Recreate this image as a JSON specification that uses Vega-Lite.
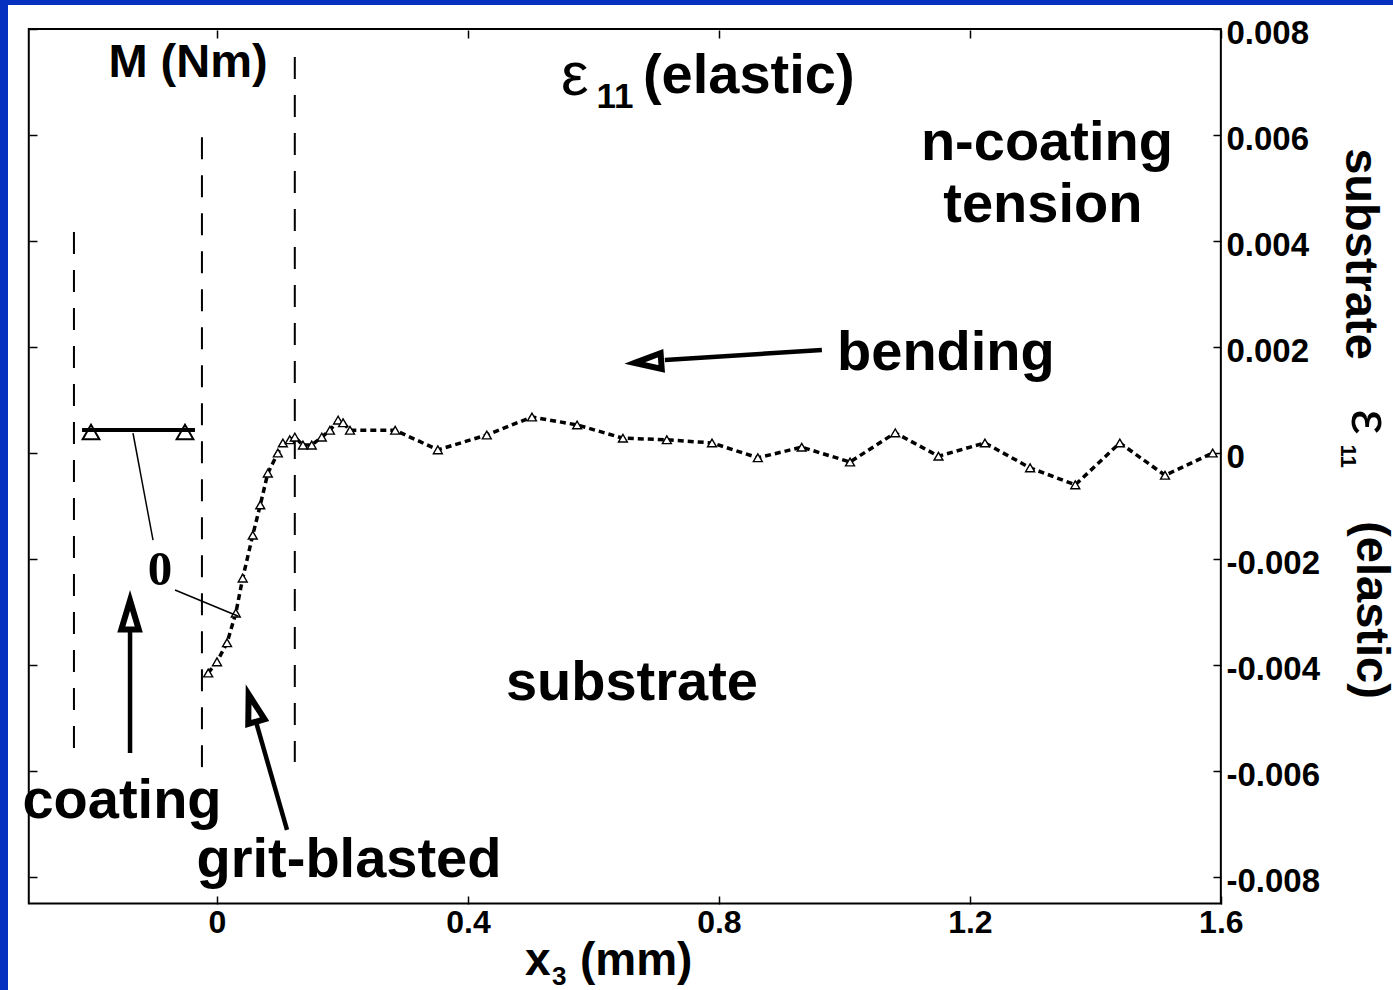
{
  "$schema": "https://vega.github.io/schema/vega-lite/v6.json",
  "width": 1385,
  "height": 985,
  "autosize": {"type": "none"},
  "padding": {"left": 8, "top": 5, "right": 0, "bottom": 0},
  "background": "#0530c0",
  "view": {"fill": "white", "stroke": null},
  "config": {"font": "Liberation Sans"},
  "datasets": {
    "curve": [
      {"x": -0.014, "y": -0.00415}, {"x": 0.0, "y": -0.00394}, {"x": 0.016, "y": -0.00358},
      {"x": 0.030, "y": -0.00302}, {"x": 0.041, "y": -0.00236}, {"x": 0.057, "y": -0.00155},
      {"x": 0.069, "y": -0.00098}, {"x": 0.081, "y": -0.00038}, {"x": 0.097, "y": 0.0},
      {"x": 0.105, "y": 0.00019}, {"x": 0.116, "y": 0.00025}, {"x": 0.124, "y": 0.0003},
      {"x": 0.137, "y": 0.00015}, {"x": 0.151, "y": 0.00015}, {"x": 0.167, "y": 0.0003},
      {"x": 0.180, "y": 0.00043}, {"x": 0.193, "y": 0.00062}, {"x": 0.201, "y": 0.00057},
      {"x": 0.212, "y": 0.00043}, {"x": 0.284, "y": 0.00043}, {"x": 0.352, "y": 0.00006},
      {"x": 0.430, "y": 0.00034}, {"x": 0.502, "y": 0.00068}, {"x": 0.574, "y": 0.00053},
      {"x": 0.647, "y": 0.00028}, {"x": 0.717, "y": 0.00025}, {"x": 0.789, "y": 0.00019},
      {"x": 0.862, "y": -0.00009}, {"x": 0.932, "y": 0.00011}, {"x": 1.009, "y": -0.00017},
      {"x": 1.081, "y": 0.00038}, {"x": 1.150, "y": -0.00006}, {"x": 1.224, "y": 0.00019},
      {"x": 1.296, "y": -0.00028}, {"x": 1.368, "y": -0.0006}, {"x": 1.439, "y": 0.00019},
      {"x": 1.511, "y": -0.00042}, {"x": 1.587, "y": 0.0}
    ]
  },
  "encoding": {
    "x": {"field": "x", "type": "quantitative", "scale": {"domain": [-0.33312, 1.8744], "nice": false, "zero": false}, "axis": null},
    "y": {"field": "y", "type": "quantitative", "scale": {"domain": [-0.010132, 0.008453], "nice": false, "zero": false}, "axis": null}
  },
  "resolve": {"axis": {"x": "independent", "y": "independent"}},
  "layer": [
    {
      "data": {"values": [{"x": -0.3, "x2": 1.6, "y": -0.0085, "y2": 0.008}]},
      "mark": {"type": "rect", "filled": false, "stroke": "black", "strokeWidth": 2},
      "encoding": {
        "x": {"field": "x", "type": "quantitative", "scale": {"domain": [-0.33312, 1.8744], "nice": false, "zero": false},
          "axis": {"orient": "bottom", "offset": -86, "values": [0, 0.4, 0.8, 1.2, 1.6], "domain": false, "grid": false,
            "tickSize": -8, "tickWidth": 1.5, "tickColor": "black", "labelFont": "Liberation Sans", "labelFontSize": 32,
            "labelFontWeight": "bold", "labelColor": "black", "labelPadding": 11, "labelFlush": false, "labelOverlap": false,
            "format": ".1~f", "title": null}},
        "x2": {"field": "x2"},
        "y": {"field": "y", "type": "quantitative", "scale": {"domain": [-0.010132, 0.008453], "nice": false, "zero": false},
          "axis": {"orient": "right", "offset": -172, "values": [-0.008, -0.006, -0.004, -0.002, 0, 0.002, 0.004, 0.006, 0.008],
            "domain": false, "grid": false, "tickSize": -8, "tickWidth": 1.5, "tickColor": "black", "labelFont": "Liberation Sans",
            "labelFontSize": 33, "labelFontWeight": "bold", "labelColor": "black", "labelPadding": 13, "labelOffset": 4, "labelFlush": false,
            "labelOverlap": false, "labelExpr": "datum.value == 0 ? '0' : (datum.value < 0 ? '-' : '') + format(abs(datum.value), '.3f')",
            "title": null}},
        "y2": {"field": "y2"}
      }
    },
    {
      "data": {"values": [
        {"x": -0.228, "y": 0.00417, "y2": -0.00557},
        {"x": -0.024, "y": 0.00596, "y2": -0.00598},
        {"x": 0.124, "y": 0.00747, "y2": -0.00583}
      ]},
      "mark": {"type": "rule", "color": "black", "strokeWidth": 2, "strokeDash": [22, 16]},
      "encoding": {
        "x": {"field": "x", "type": "quantitative", "scale": {"domain": [-0.33312, 1.8744], "nice": false, "zero": false},
          "axis": {"orient": "top", "offset": -25, "values": [0, 0.4, 0.8, 1.2, 1.6], "domain": false, "grid": false,
            "labels": false, "tickSize": -8, "tickWidth": 1.5, "tickColor": "black", "title": null}},
        "y": {"field": "y", "type": "quantitative", "scale": {"domain": [-0.010132, 0.008453], "nice": false, "zero": false},
          "axis": {"orient": "left", "offset": -21, "values": [-0.008, -0.006, -0.004, -0.002, 0, 0.002, 0.004, 0.006, 0.008],
            "domain": false, "grid": false, "labels": false, "tickSize": -8, "tickWidth": 1.5, "tickColor": "black", "title": null}},
        "y2": {"field": "y2"}
      }
    },
    {
      "data": {"name": "curve"},
      "mark": {"type": "line", "color": "black", "strokeWidth": 3.5, "strokeDash": [6, 4]}
    },
    {
      "data": {"name": "curve"},
      "mark": {"type": "point", "shape": "triangle-up", "size": 80, "filled": true, "fill": "white", "stroke": "black", "strokeWidth": 1.4, "opacity": 1}
    },
    {
      "data": {"values": [{"x": -0.2008, "y": 0.000396}, {"x": -0.051, "y": 0.000396}]},
      "mark": {"type": "point", "shape": "triangle-up", "size": 280, "filled": true, "fill": "white", "stroke": "black", "strokeWidth": 2, "opacity": 1}
    },
    {
      "data": {"values": [{"x": -0.2151, "x2": -0.0351, "y": 0.000434}]},
      "mark": {"type": "rule", "color": "black", "strokeWidth": 4},
      "encoding": {"x2": {"field": "x2"}}
    },
    {
      "data": {"values": [
        {"x": -0.1339, "y": 0.000377, "x2": -0.102, "y2": -0.001642},
        {"x": -0.0669, "y": -0.002585, "x2": 0.034, "y2": -0.00308}
      ]},
      "mark": {"type": "rule", "color": "black", "strokeWidth": 1.5},
      "encoding": {"x2": {"field": "x2"}, "y2": {"field": "y2"}}
    },
    {
      "data": {"values": [
        {"x": 0.9641, "y": 0.001943, "x2": 0.7139, "y2": 0.001755},
        {"x": -0.1386, "y": -0.00566, "x2": -0.1386, "y2": -0.00334},
        {"x": 0.1116, "y": -0.007113, "x2": 0.0622, "y2": -0.005075}
      ]},
      "mark": {"type": "rule", "color": "black", "strokeWidth": 4.5},
      "encoding": {"x2": {"field": "x2"}, "y2": {"field": "y2"}}
    },
    {
      "data": {"values": [{"x": 0.6869, "y": 0.001717}]},
      "mark": {"type": "point", "shape": "M0,-1L0.6,1L-0.6,1Z", "size": 700, "angle": 266, "filled": true, "fill": "white", "stroke": "black", "strokeWidth": 6, "strokeJoin": "miter", "opacity": 1}
    },
    {
      "data": {"values": [{"x": -0.1386, "y": -0.003057}]},
      "mark": {"type": "point", "shape": "M0,-1L0.6,1L-0.6,1Z", "size": 850, "angle": 0, "filled": true, "fill": "white", "stroke": "black", "strokeWidth": 6, "strokeJoin": "miter", "opacity": 1}
    },
    {
      "data": {"values": [{"x": 0.0566, "y": -0.004811}]},
      "mark": {"type": "point", "shape": "M0,-1L0.6,1L-0.6,1Z", "size": 800, "angle": 344, "filled": true, "fill": "white", "stroke": "black", "strokeWidth": 6, "strokeJoin": "miter", "opacity": 1}
    },
    {
      "data": {"values": [
        {"x": 1.3227, "y": 0.005528, "label": "n-coating"},
        {"x": 1.3163, "y": 0.004358, "label": "tension"},
        {"x": 1.1618, "y": 0.001566, "label": "bending"},
        {"x": 0.6614, "y": -0.00466, "label": "substrate"},
        {"x": -0.1514, "y": -0.006887, "label": "coating"},
        {"x": 0.2104, "y": -0.008, "label": "grit-blasted"}
      ]},
      "mark": {"type": "text", "font": "Liberation Sans", "fontSize": 56, "fontWeight": "bold", "color": "black", "align": "center", "baseline": "alphabetic"},
      "encoding": {"text": {"field": "label"}}
    },
    {
      "data": {"values": [{"x": -0.0462, "y": 0.007094, "label": "M (Nm)"}]},
      "mark": {"type": "text", "font": "Liberation Sans", "fontSize": 47, "fontWeight": "bold", "color": "black", "align": "center", "baseline": "alphabetic"},
      "encoding": {"text": {"field": "label"}}
    },
    {
      "data": {"values": [{"x": 0.6789, "y": 0.006792, "label": "(elastic)"}]},
      "mark": {"type": "text", "font": "Liberation Sans", "fontSize": 56, "fontWeight": "bold", "color": "black", "align": "left", "baseline": "alphabetic"},
      "encoding": {"text": {"field": "label"}}
    },
    {
      "data": {"values": [{"x": 0.5705, "y": 0.006755, "label": "ε"}]},
      "mark": {"type": "text", "font": "Liberation Sans", "fontSize": 62, "fontWeight": "normal", "color": "black", "align": "center", "baseline": "alphabetic"},
      "encoding": {"text": {"field": "label"}}
    },
    {
      "data": {"values": [{"x": 0.6343, "y": 0.006509, "label": "11"}]},
      "mark": {"type": "text", "font": "Liberation Sans", "fontSize": 35, "fontWeight": "bold", "color": "black", "align": "center", "baseline": "alphabetic"},
      "encoding": {"text": {"field": "label"}}
    },
    {
      "data": {"values": [{"x": -0.0908, "y": -0.00249, "label": "0"}]},
      "mark": {"type": "text", "font": "Liberation Serif", "fontSize": 49, "fontWeight": "bold", "color": "black", "align": "center", "baseline": "alphabetic"},
      "encoding": {"text": {"field": "label"}}
    },
    {
      "data": {"values": [
        {"x": 0.4908, "y": -0.009849, "label": "x"},
        {"x": 0.5785, "y": -0.009849, "label": "(mm)"}
      ]},
      "mark": {"type": "text", "font": "Liberation Sans", "fontSize": 46, "fontWeight": "bold", "color": "black", "align": "left", "baseline": "alphabetic"},
      "encoding": {"text": {"field": "label"}}
    },
    {
      "data": {"values": [{"x": 0.5339, "y": -0.010038, "label": "3"}]},
      "mark": {"type": "text", "font": "Liberation Sans", "fontSize": 26, "fontWeight": "bold", "color": "black", "align": "left", "baseline": "alphabetic"},
      "encoding": {"text": {"field": "label"}}
    },
    {
      "data": {"values": [
        {"x": 1.7993, "y": 0.003755, "label": "substrate"},
        {"x": 1.8168, "y": -0.002962, "label": "(elastic)"}
      ]},
      "mark": {"type": "text", "font": "Liberation Sans", "fontSize": 47, "fontWeight": "bold", "color": "black", "align": "center", "baseline": "alphabetic", "angle": 90},
      "encoding": {"text": {"field": "label"}}
    },
    {
      "data": {"values": [{"x": 1.8088, "y": 0.000585, "label": "ε"}]},
      "mark": {"type": "text", "font": "Liberation Sans", "fontSize": 56, "fontWeight": "normal", "color": "black", "align": "center", "baseline": "alphabetic", "angle": 90},
      "encoding": {"text": {"field": "label"}}
    },
    {
      "data": {"values": [{"x": 1.7912, "y": -0.0000566, "label": "11"}]},
      "mark": {"type": "text", "font": "Liberation Sans", "fontSize": 22, "fontWeight": "bold", "color": "black", "align": "center", "baseline": "alphabetic", "angle": 90},
      "encoding": {"text": {"field": "label"}}
    }
  ]
}
